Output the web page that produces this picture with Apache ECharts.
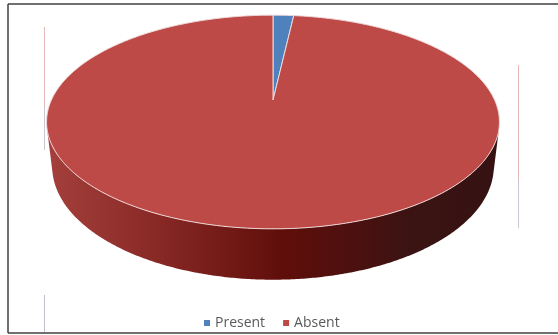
<!DOCTYPE html>
<html>
<head>
<meta charset="utf-8">
<script src="https://cdn.jsdelivr.net/npm/echarts@6/dist/echarts.min.js"></script>
<style>html,body{margin:0;padding:0;background:#fff;}#main{width:558px;height:335px;}</style>
</head>
<body>
<div id="main"></div>
<script>
// ---- data ----
const categories = ['Present', 'Absent'];
const values = [1.8, 98.2];
const sliceColors = ['#4F81BD', '#BD4A46'];

// ---- 3D perspective pie geometry ----
const PHI = 27.5 * Math.PI / 180;
const SN = Math.sin(PHI), CS = Math.cos(PHI);
const DIST = 4.31, SCALE = 955, H = 0.228, CX = 273, CY = 100;
function proj(x, y, z) {
  const d = DIST - y * SN + z * CS;
  return [CX + SCALE * x / d, CY - SCALE * (y * CS + z * SN) / d];
}
const total = values.reduce((a, b) => a + b, 0);
const visLimit = Math.acos(-1 / (DIST * CS));

function arcPts(a0, a1, y) {
  const pts = [];
  const n = Math.max(2, Math.ceil(Math.abs(a1 - a0) / (0.5 * Math.PI / 180)));
  for (let i = 0; i <= n; i++) {
    const t = a0 + (a1 - a0) * i / n;
    pts.push(proj(Math.sin(t), y, Math.cos(t)));
  }
  return pts;
}

function renderSlice(params, api) {
  const idx = params.seriesIndex;
  let start = 0;
  for (let i = 0; i < idx; i++) start += values[i];
  const v = api.value(0);
  const a0 = start / total * 2 * Math.PI;
  const a1 = (start + v) / total * 2 * Math.PI;
  const children = [];
  const s0 = Math.max(a0, visLimit), s1 = Math.min(a1, 2 * Math.PI - visLimit);
  if (s1 > s0) {
    const top = arcPts(s0, s1, 0);
    const bot = arcPts(s0, s1, -H).reverse();
    children.push({
      type: 'polygon',
      z2: 1,
      shape: { points: top.concat(bot) },
      style: {
        fill: new echarts.graphic.LinearGradient(47, 0, 500, 0, [
          { offset: 0, color: '#A4403C' },
          { offset: 0.23, color: '#8A2A27' },
          { offset: 0.52, color: '#600E0A' },
          { offset: 0.8, color: '#3B1313' },
          { offset: 1, color: '#361212' }
        ], true),
        stroke: null
      }
    });
  }
  const topPts = [proj(0, 0, 0)].concat(arcPts(a0, a1, 0));
  children.push({
    type: 'polygon',
    z2: 10,
    shape: { points: topPts },
    style: { fill: api.visual('color'), stroke: '#F0DADA', lineWidth: 1, lineJoin: 'round' }
  });
  return { type: 'group', children: children };
}

const series = categories.map((name, i) => ({
  type: 'custom',
  name: name,
  coordinateSystem: 'none',
  renderItem: renderSlice,
  itemStyle: { color: sliceColors[i] },
  data: [[values[i]]],
  silent: true,
  animation: false
}));

const chart = echarts.init(document.getElementById('main'), null, { renderer: 'canvas' });
chart.setOption({
  animation: false,
  backgroundColor: '#ffffff',
  color: sliceColors,
  legend: {
    data: categories,
    top: 316,
    left: 204,
    padding: 0,
    icon: 'rect',
    itemWidth: 6,
    itemHeight: 6,
    itemGap: 18,
    textStyle: { color: '#595959', fontSize: 14, fontFamily: 'Open Sans' }
  },
  graphic: [
    { type: 'line', shape: { x1: 8, y1: 4, x2: 558, y2: 4 }, style: { stroke: '#404040', lineWidth: 1.5 } },
    { type: 'line', shape: { x1: 8, y1: 4, x2: 8, y2: 333 }, style: { stroke: '#404040', lineWidth: 1.5 } },
    { type: 'line', shape: { x1: 8, y1: 333, x2: 558, y2: 333 }, style: { stroke: '#404040', lineWidth: 1.5 } },
    { type: 'line', shape: { x1: 44.5, y1: 27, x2: 44.5, y2: 108 }, style: { stroke: '#E8B8B8', lineWidth: 1 } },
    { type: 'line', shape: { x1: 44.5, y1: 108, x2: 44.5, y2: 150 }, style: { stroke: '#C8C8D0', lineWidth: 1 } },
    { type: 'line', shape: { x1: 44.5, y1: 295, x2: 44.5, y2: 332 }, style: { stroke: '#C0C0C8', lineWidth: 1 } },
    { type: 'line', shape: { x1: 518.5, y1: 65, x2: 518.5, y2: 180 }, style: { stroke: '#E8B8B8', lineWidth: 1 } },
    { type: 'line', shape: { x1: 518.5, y1: 180, x2: 518.5, y2: 228 }, style: { stroke: '#C8C8D0', lineWidth: 1 } }
  ],
  series: series
});
</script>
</body>
</html>
